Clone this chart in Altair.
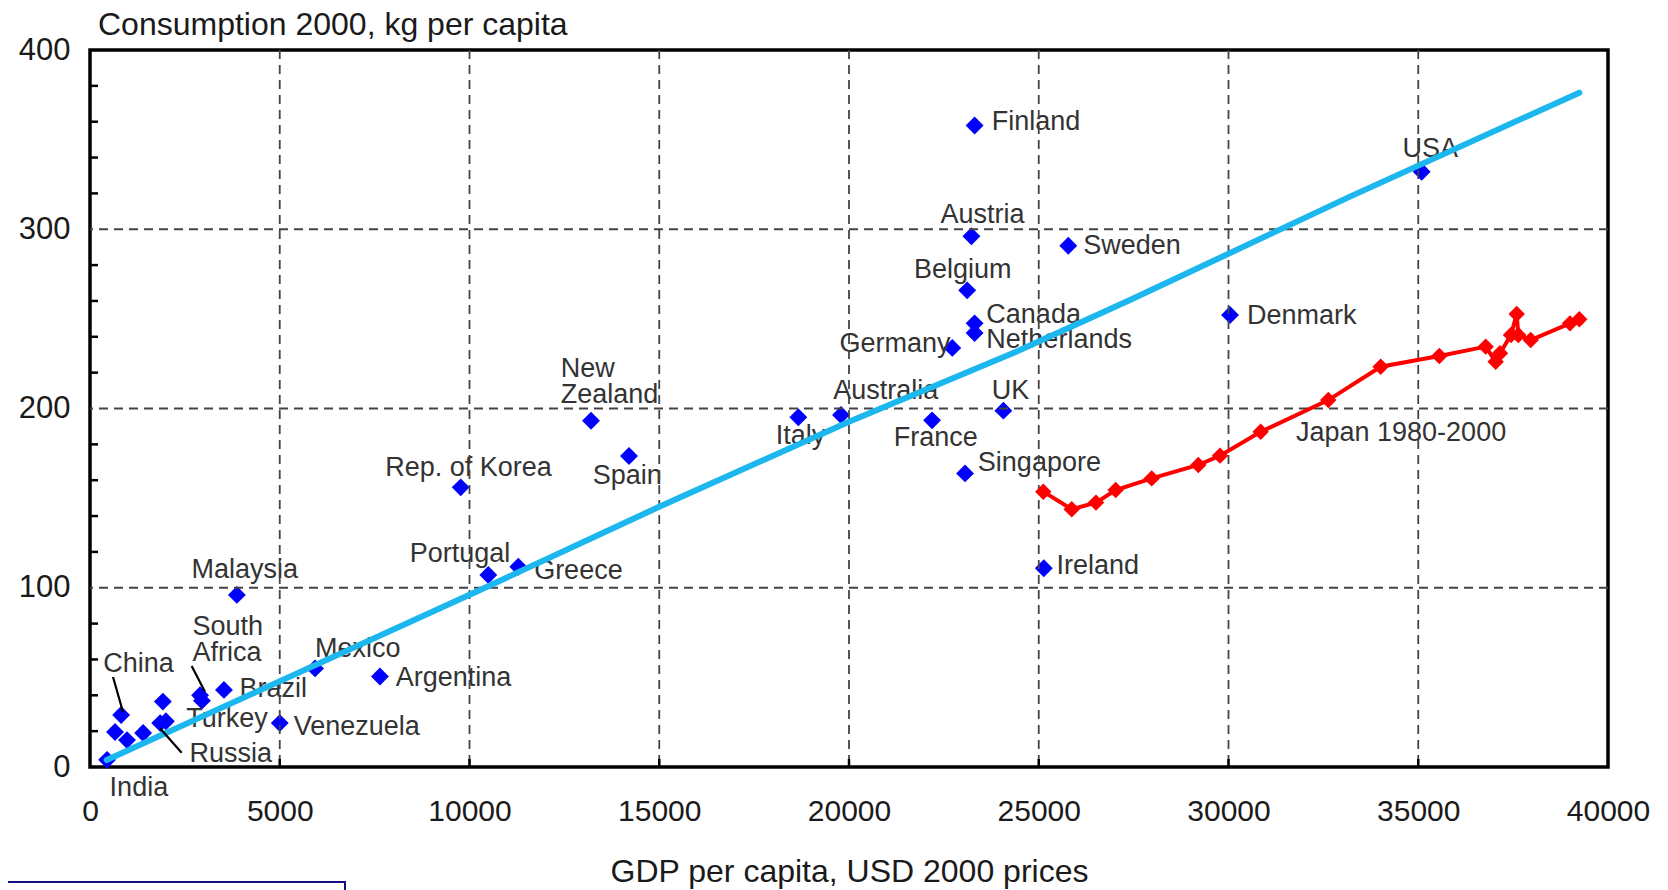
import altair as alt
import pandas as pd

FONT = "Liberation Sans"

# ---- Countries 2000 (blue diamonds) ----
country_names = ["India", "China", "c1", "c2", "c3", "Russia", "c4", "Turkey",
                 "South Africa", "South Africa b", "Brazil", "Malaysia", "Venezuela",
                 "Mexico", "Argentina", "Rep. of Korea", "Portugal", "Greece",
                 "New Zealand", "Spain", "Italy", "Australia", "France", "Singapore",
                 "UK", "Germany", "Canada", "Netherlands", "Belgium", "Austria",
                 "Finland", "Sweden", "Denmark", "USA", "Ireland"]
country_gdp = [450, 820, 660, 975, 1400, 1850, 2000, 1920,
               2900, 2950, 3530, 3870, 5000,
               5930, 7640, 9768, 10496, 11286,
               13202, 14203, 18665, 19789, 22189, 23058,
               24068, 22722, 23310, 23310, 23114, 23226,
               23310, 25778, 30040, 35091, 25133]
country_kg = [4, 29, 19.5, 15, 19, 24.5, 25.5, 36.5,
              40, 37, 43, 96, 24.5,
              55, 50.5, 156, 107.1, 111.7,
              193.2, 173.5, 195.1, 196.4, 193.4, 163.8,
              198.8, 233.8, 247.5, 242.1, 265.9, 296.1,
              357.9, 290.8, 252.2, 332.1, 110.9]

# ---- Japan 1980-2000 (red path) ----
japan_gdp = [25120, 25868, 26508, 27027, 27976, 29205, 29776, 30848, 32630, 34010,
             35555, 36777, 37040, 37154, 37444, 37594, 37637, 37963, 38999, 39244]
japan_kg = [153.6, 143.8, 147.5, 154.5, 161.0, 168.5, 173.7, 187.0, 204.7, 223.3,
            229.3, 234.5, 226.1, 230.8, 241.0, 252.7, 241.0, 238.2, 247.5, 249.8]

# ---- Trend line (cyan) ----
trend_gdp = [440, 10277, 15000, 20000, 24506, 27404, 33201, 39244]
trend_kg = [3.9, 98.7, 145.2, 192.6, 232.6, 260.5, 318.2, 376.2]

# ---- Point labels (left edge, centre of first line, in data units) ----
label_text = ["Finland", "USA", "Austria", "Sweden", "Belgium", "Canada", "Denmark",
              "Germany", "Netherlands", "New\nZealand", "Australia", "UK",
              "Japan 1980-2000", "Italy", "France", "Rep. of Korea", "Singapore",
              "Spain", "Portugal", "Greece", "Ireland", "Malaysia", "South\nAfrica",
              "Mexico", "China", "Argentina", "Brazil", "Turkey", "Venezuela",
              "Russia", "India"]
label_gdp = [23759, 34582, 22413, 26170, 21712, 23619, 30488,
             19750, 23619, 12404, 19582, 23759,
             31778, 18068, 21180, 7778, 23395,
             13246, 8423, 11703, 25469, 2675, 2703,
             5927, 348, 8058, 3937, 2535, 5367,
             2619, 517]
label_kg = [359.6, 344.8, 308.0, 290.8, 277.1, 252.2, 251.6,
            236.2, 238.0, 221.9, 209.5, 209.5,
            186.3, 184.5, 183.3, 166.7, 169.7,
            162.6, 118.6, 109.1, 112.1, 109.7, 78.3,
            65.8, 57.5, 49.8, 43.3, 26.6, 22.5,
            7.1, -11.9]

# ---- Leader lines ----
leader_gdp = [606, 2679, 1845]
leader_kg = [50.2, 56.3, 21.6]
leader_gdp2 = [870, 3030, 2415]
leader_kg2 = [30.7, 42.0, 8.0]

# ---- Axes / grid ----
x_ticks = [0, 5000, 10000, 15000, 20000, 25000, 30000, 35000, 40000]
y_ticks = [0, 100, 200, 300, 400]
grid_x = [5000, 10000, 15000, 20000, 25000, 30000, 35000]
grid_y = [100, 200, 300]
minor_y = [20, 40, 60, 80, 120, 140, 160, 180, 220, 240, 260, 280, 320, 340, 360, 380]

W, H = 1518, 717

xs = alt.Scale(domain=[0, 40000], nice=False, zero=False)
ys = alt.Scale(domain=[0, 400], nice=False, zero=False)

x_axis = alt.Axis(values=x_ticks, format="d", labelFontSize=30, labelPadding=29,
                  labelFlush=False, labelOverlap=False, ticks=False, domain=False,
                  grid=False, labelColor="#1a1a1a", labelFont=FONT,
                  title="GDP per capita, USD 2000 prices", titleFontSize=32,
                  titleFontWeight="normal", titleColor="#1a1a1a", titleFont=FONT,
                  titlePadding=30)
y_axis = alt.Axis(values=y_ticks, format="d", labelFontSize=31, labelPadding=20,
                  labelFlush=False, labelOverlap=False, ticks=False, domain=False,
                  grid=False, labelColor="#1a1a1a", labelFont=FONT, title=None)


def X(field):
    return alt.X(field, scale=xs, axis=x_axis)


def Y(field):
    return alt.Y(field, scale=ys, axis=y_axis)


df_c = pd.DataFrame({"gdp": country_gdp, "kg": country_kg, "name": country_names})
df_j = pd.DataFrame({"gdp": japan_gdp, "kg": japan_kg, "i": list(range(len(japan_gdp)))})
df_t = pd.DataFrame({"gdp": trend_gdp, "kg": trend_kg, "i": list(range(len(trend_gdp)))})
df_l = pd.DataFrame({"gdp": label_gdp, "kg": label_kg, "t": label_text})
df_ld = pd.DataFrame({"gdp": leader_gdp, "kg": leader_kg, "gdp2": leader_gdp2, "kg2": leader_kg2})
df_gx = pd.DataFrame({"gdp": grid_x})
df_gy = pd.DataFrame({"kg": grid_y})
df_my = pd.DataFrame({"kg": minor_y})

pts = alt.Chart(df_c).mark_point(shape="diamond", filled=True, size=320,
                                 color="#0000FF", opacity=1).encode(
    x=X("gdp:Q"), y=Y("kg:Q"))

labels = alt.Chart(df_l).mark_text(
    align="left", baseline="middle", fontSize=27, font=FONT, color="#333333",
    lineBreak="\n", lineHeight=26
).encode(x=X("gdp:Q"), y=Y("kg:Q"), text="t:N")

grid_v = alt.Chart(df_gx).mark_rule(color="#444444", strokeWidth=1.8, strokeDash=[9, 6]).encode(
    x=X("gdp:Q"))
grid_h = alt.Chart(df_gy).mark_rule(color="#444444", strokeWidth=1.8, strokeDash=[9, 6]).encode(
    y=Y("kg:Q"))

ticks_left = alt.Chart(df_my).mark_rule(color="black", strokeWidth=2.5).encode(
    y=Y("kg:Q"), x=alt.value(0), x2=alt.value(8))
ticks_bottom = alt.Chart(df_gx).mark_rule(color="black", strokeWidth=2.5).encode(
    x=X("gdp:Q"), y=alt.value(H), y2=alt.value(H - 8))

trend = alt.Chart(df_t).mark_line(color="#1BB7EE", strokeWidth=6, strokeCap="round",
                                  strokeJoin="round").encode(
    x=X("gdp:Q"), y=Y("kg:Q"), order="i:Q")

japan_line = alt.Chart(df_j).mark_line(color="#FF0000", strokeWidth=4).encode(
    x=X("gdp:Q"), y=Y("kg:Q"), order="i:Q")
japan_pts = alt.Chart(df_j).mark_point(shape="diamond", filled=True, size=270,
                                       color="#FF0000", opacity=1).encode(
    x=X("gdp:Q"), y=Y("kg:Q"))

leaders = alt.Chart(df_ld).mark_rule(color="black", strokeWidth=2.2).encode(
    x=X("gdp:Q"), y=Y("kg:Q"), x2="gdp2:Q", y2="kg2:Q")

box = alt.Chart(pd.DataFrame({"k": [0]})).mark_rect(
    fill="white", fillOpacity=0, stroke="#101080", strokeWidth=2).encode(
    x=alt.value(-100), x2=alt.value(255), y=alt.value(832), y2=alt.value(880))

chart = alt.layer(
    pts, labels, grid_v, grid_h, ticks_left, ticks_bottom, trend,
    japan_line, japan_pts, leaders, box
).properties(
    width=W, height=H,
    autosize=alt.AutoSizeParams(type="none"),
    padding={"left": 82, "top": 42, "right": 52, "bottom": 130},
    background="white",
    title=alt.TitleParams(text="Consumption 2000, kg per capita", anchor="start",
                          frame="group", fontSize=32, fontWeight="normal",
                          font=FONT, color="#1a1a1a", dx=8, offset=-8),
).configure_view(stroke="black", strokeWidth=3.5)

chart.save("out.html", embed_options={"renderer": "svg", "actions": False})
